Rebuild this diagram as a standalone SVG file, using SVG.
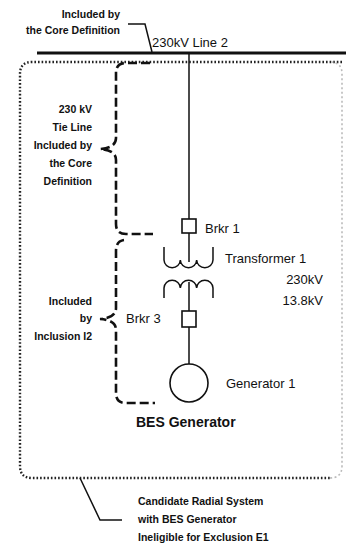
<svg xmlns="http://www.w3.org/2000/svg" width="346" height="546" viewBox="0 0 346 546">
<style>
.t{font-family:"Liberation Sans",Arial,sans-serif;fill:#111}
.s{font-size:10.5px;font-weight:bold}
.m{font-size:13px}
.b{font-size:14px;font-weight:bold}
.ln{fill:none;stroke:#111;stroke-width:1.5}
.br{fill:none;stroke:#111;stroke-width:2.6;stroke-dasharray:9 4}
</style>
<rect width="346" height="546" fill="#fff"/>
<g id="connectors">
  <line x1="37" y1="53" x2="346" y2="53" stroke="#111" stroke-width="3.2"/>
  <path class="ln" d="M128,24 H145 L152,52"/>
  <path d="M342,62 H32 Q20,62 20,74 V466 Q20,478 32,478 H330" fill="none" stroke="#222" stroke-width="2.4" stroke-dasharray="1.6 2"/>
  <path d="M330,478 Q342,478 342,466 V74 Q342,62 330,62" fill="none" stroke="#bbb" stroke-width="1.6" stroke-dasharray="2 2.5"/>
  <path class="ln" d="M80,478 L100,520 H122"/>
  <path class="ln" d="M189,54 V219 M189,233 V262 M189,282 V311 M189,327 V364"/>
  <path class="br" d="M150,63 H126 Q116,63 116,73 V138 Q116,148 100,149 Q116,150 116,160 V224 Q116,234 126,234 H153"/>
  <path class="br" d="M124,240 Q116,241 116,251 V308 Q116,318 100,319 Q116,320 116,330 V393 Q116,403 126,403 H155"/>
</g>
<g id="line2">
  <text class="t m" x="152" y="47">230kV Line 2</text>
</g>
<g id="core-note">
  <text class="t s" x="120" y="18" text-anchor="end">Included by</text>
  <text class="t s" x="120" y="34" text-anchor="end">the Core Definition</text>
</g>
<g id="tie-note">
  <text class="t s" text-anchor="end" x="92" y="113">230 kV</text>
  <text class="t s" text-anchor="end" x="92" y="131">Tie Line</text>
  <text class="t s" text-anchor="end" x="92" y="149">Included by</text>
  <text class="t s" text-anchor="end" x="92" y="167">the Core</text>
  <text class="t s" text-anchor="end" x="92" y="185">Definition</text>
</g>
<g id="i2-note">
  <text class="t s" text-anchor="end" x="92" y="305">Included</text>
  <text class="t s" text-anchor="end" x="92" y="322">by</text>
  <text class="t s" text-anchor="end" x="92" y="340">Inclusion I2</text>
</g>
<g id="brkr1">
  <rect x="182" y="219" width="14" height="14" fill="#fff" stroke="#111" stroke-width="1.6"/>
  <text class="t m" x="205" y="233">Brkr 1</text>
</g>
<g id="transformer1">
  <path class="ln" stroke-width="1.8" d="M164,247 V260 a8.17,8 0 0 0 16.33,0 a8.17,8 0 0 0 16.33,0 a8.17,8 0 0 0 16.33,0 V247"/>
  <path class="ln" stroke-width="1.8" d="M164,298 V288 a8.17,8 0 0 1 16.33,0 a8.17,8 0 0 1 16.33,0 a8.17,8 0 0 1 16.33,0 V298"/>
  <text class="t m" x="225" y="263">Transformer 1</text>
  <text class="t m" x="323" y="284" text-anchor="end">230kV</text>
  <text class="t m" x="323" y="305" text-anchor="end">13.8kV</text>
</g>
<g id="brkr3">
  <rect x="182" y="311" width="14" height="16" fill="#fff" stroke="#111" stroke-width="1.6"/>
  <text class="t m" x="126" y="323">Brkr 3</text>
</g>
<g id="generator1">
  <circle cx="189" cy="383" r="19" fill="#fff" stroke="#111" stroke-width="1.6"/>
  <text class="t m" x="226" y="388">Generator 1</text>
  <text class="t b" x="136" y="427">BES Generator</text>
</g>
<g id="radial-note">
  <text class="t s" x="138" y="505">Candidate Radial System</text>
  <text class="t s" x="138" y="523">with BES Generator</text>
  <text class="t s" x="138" y="541">Ineligible for Exclusion E1</text>
</g>
</svg>
